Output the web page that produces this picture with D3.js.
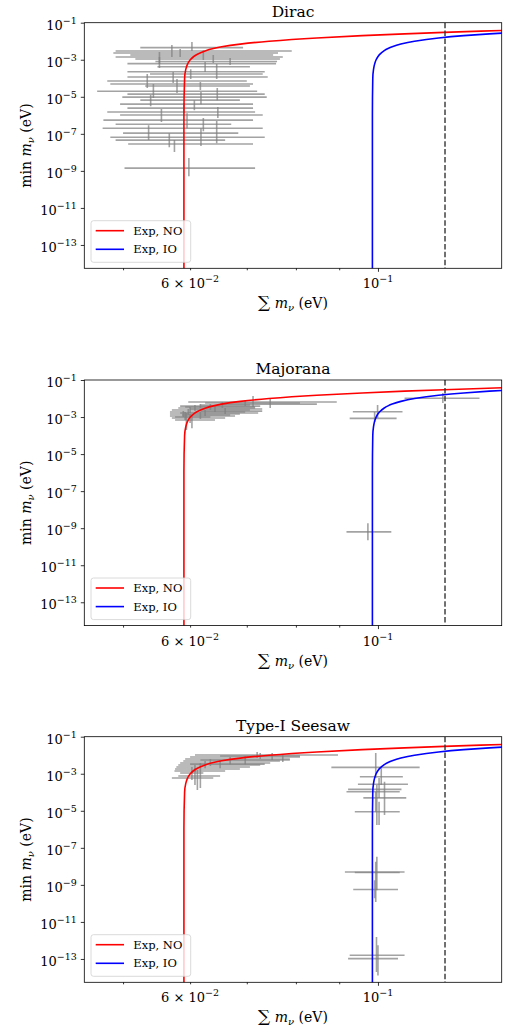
<!DOCTYPE html>
<html lang="en">
<head>
<meta charset="utf-8">
<script src="https://cdn.jsdelivr.net/npm/d3@7"></script>
<style>
    body { margin: 0; background: #fff; }
    text { font-family: 'DejaVu Serif', serif; fill: #000; }
    .frame { fill: none; stroke: #000; stroke-width: 0.8; }
    .axis path { display: none; }
    .axis line { stroke: #000; stroke-width: 0.8; }
    .err { stroke: #808080; stroke-opacity: 0.72; stroke-width: 1.6; }
</style>
</head>
<body>
<div id="chart"></div>
<script>

    // panel titles
    var titles = ["Dirac", "Majorana", "Type-I Seesaw"];

    // tick values and labels
    var yTicks = [1e-1, 1e-3, 1e-5, 1e-7, 1e-9, 1e-11, 1e-13];
    var yTickSup = ["\u22121", "\u22123", "\u22125", "\u22127", "\u22129", "\u221211", "\u221213"];
    var xMajorTicks = [0.1];
    var xMinorTicks = [0.05, 0.06, 0.07, 0.08, 0.09];
    var xLabelTicks = [0.06, 0.1];
    var xTickBase = ["6 \u00d7 10", "10"];
    var xTickSup = ["\u22122", "\u22121"];

    // legend
    var legendLabels = ["Exp, NO", "Exp, IO"];
    var legendColors = ["#ff0000", "#0000ff"];

    // expected curves: lightest mass (eV) vs sum of masses (eV)
    var noMin  = [1e-15, 1e-6, 1e-4, 3e-4, 5e-4, 1e-3, 1.5e-3, 2e-3, 3e-3, 4e-3, 5e-3, 7e-3, 1e-2, 1.5e-2, 2e-2, 2.5e-2, 3e-2, 3.5e-2, 4e-2];
    var noSum  = [0.05900, 0.05900, 0.05911, 0.05930, 0.05950, 0.06003, 0.06060, 0.06120, 0.06250, 0.06392, 0.06538, 0.06876, 0.07436, 0.08466, 0.09579, 0.10750, 0.11967, 0.13222, 0.14508];
    var ioMin  = [1e-15, 1e-6, 1e-4, 3e-4, 5e-4, 1e-3, 1.5e-3, 2e-3, 3e-3, 4e-3, 5e-3, 7e-3, 1e-2, 1.5e-2, 2e-2, 2.5e-2, 3e-2];
    var ioSum  = [0.09850, 0.09850, 0.09860, 0.09880, 0.09900, 0.09950, 0.10002, 0.10055, 0.10163, 0.10277, 0.10395, 0.10643, 0.11045, 0.11791, 0.12626, 0.13541, 0.14529];

    // cosmological bound on the sum
    var sumCut = 0.12;

    // model points: [sum, sumLo, sumHi, minM, minMLo, minMHi]
    var diracBars = [
        [0.0603, 0.0524, 0.0693, 4.5e-3, 2.95e-3, 9.1e-3],
        [0.0571, 0.0490, 0.0791, 2.95e-3, 1.4e-3, 6.2e-3],
        [0.0584, 0.0487, 0.0762, 2.3e-3, 1.4e-3, 3.8e-3],
        [0.0622, 0.0510, 0.0752, 1.8e-3, 9.6e-4, 3.3e-3],
        [0.0552, 0.0490, 0.0772, 1.4e-3, 5.9e-4, 2.6e-3],
        [0.0639, 0.0517, 0.0766, 1.09e-3, 6.6e-4, 1.8e-3],
        [0.0669, 0.0546, 0.0760, 8.0e-4, 5.2e-4, 1.24e-3],
        [0.0552, 0.0506, 0.0758, 6.2e-4, 3.6e-4, 1.4e-3],
        [0.0625, 0.0549, 0.0706, 4.2e-4, 2.2e-4, 7.5e-4],
        [0.0645, 0.0506, 0.0735, 2.25e-4, 9.1e-5, 5.9e-4],
        [0.0601, 0.0538, 0.0731, 1.7e-4, 9.1e-5, 3.1e-4],
        [0.0573, 0.0506, 0.0741, 1.16e-4, 5.5e-5, 2.2e-4],
        [0.0534, 0.0479, 0.0700, 7.1e-5, 2.95e-5, 1.7e-4],
        [0.0579, 0.0483, 0.0712, 4.9e-5, 1.58e-5, 9.1e-5],
        [0.0617, 0.0531, 0.0706, 3.8e-5, 2.3e-5, 6.2e-5],
        [0.0543, 0.0466, 0.0720, 2.0e-5, 8.5e-6, 4.9e-5],
        [0.0646, 0.0506, 0.0735, 1.4e-5, 6.6e-6, 2.95e-5],
        [0.0618, 0.0499, 0.0739, 9.6e-6, 4.0e-6, 1.8e-5],
        [0.0539, 0.0524, 0.0687, 6.6e-6, 3.1e-6, 1.24e-5],
        [0.0607, 0.0496, 0.0712, 4.0e-6, 1.9e-6, 6.6e-6],
        [0.0590, 0.0506, 0.0712, 2.45e-6, 1.3e-6, 4.6e-6],
        [0.0647, 0.0479, 0.0716, 1.5e-6, 7.1e-7, 2.8e-6],
        [0.0555, 0.0496, 0.0731, 1.03e-6, 4.3e-7, 2.2e-6],
        [0.0595, 0.0474, 0.0712, 5.5e-7, 2.0e-7, 1.3e-6],
        [0.0622, 0.0490, 0.0671, 3.3e-7, 1.4e-7, 7.1e-7],
        [0.0645, 0.0473, 0.0731, 2.0e-7, 3.1e-8, 4.9e-7],
        [0.0536, 0.0500, 0.0684, 1.09e-7, 4.6e-8, 2.95e-7],
        [0.0618, 0.0483, 0.0735, 6.6e-8, 2.2e-8, 2.0e-7],
        [0.0567, 0.0490, 0.0660, 4.6e-8, 1.9e-8, 1.09e-7],
        [0.0575, 0.0507, 0.0712, 2.8e-8, 1.03e-8, 4.6e-8],
        [0.0598, 0.0502, 0.0716, 1.4e-9, 5.2e-10, 4.9e-9]
    ];

    var majoranaBars = [
        [0.0712, 0.0597, 0.0894, 6.5e-3, 3.5e-3, 1.36e-2],
        [0.0746, 0.0651, 0.0847, 5.0e-3, 3.1e-3, 9.4e-3],
        [0.0617, 0.0584, 0.0726, 3.9e-3, 3.1e-3, 5.0e-3],
        [0.0608, 0.0581, 0.0716, 3.1e-3, 2.1e-3, 4.45e-3],
        [0.0600, 0.0571, 0.0706, 2.4e-3, 1.64e-3, 3.5e-3],
        [0.0597, 0.0568, 0.0697, 1.86e-3, 1.28e-3, 2.7e-3],
        [0.0589, 0.0568, 0.0687, 1.45e-3, 1.0e-3, 2.1e-3],
        [0.0592, 0.0568, 0.0678, 1.13e-3, 6.9e-4, 1.86e-3],
        [0.0600, 0.0571, 0.0660, 8.8e-4, 4.7e-4, 1.45e-3],
        [0.0603, 0.0576, 0.0642, 6.9e-4, 2.5e-4, 1.13e-3],
        [0.0625, 0.0584, 0.0722, 1.64e-3, 1.13e-3, 2.4e-3],
        [0.0642, 0.0600, 0.0730, 2.7e-3, 1.86e-3, 3.9e-3],
        [0.0634, 0.0592, 0.0716, 3.5e-3, 2.4e-3, 5.0e-3],
        [0.0617, 0.0587, 0.0669, 1.28e-3, 7.8e-4, 1.86e-3],
        [0.0660, 0.0617, 0.0730, 2.1e-3, 1.45e-3, 3.1e-3],
        [0.0655, 0.0617, 0.0706, 4.45e-3, 3.1e-3, 6.5e-3],
        [0.0594, 0.0576, 0.0634, 1.0e-3, 2.0e-4, 1.64e-3],
        [0.0697, 0.0625, 0.0809, 5.7e-3, 3.9e-3, 8.3e-3],
        [0.0999, 0.0934, 0.1069, 1.93e-3, 8.8e-4, 4.45e-3],
        [0.0991, 0.0926, 0.1052, 8.5e-4, 5.4e-4, 1.86e-3],
        [0.1193, 0.1075, 0.1318, 1.03e-2, 5.7e-3, 1.98e-2],
        [0.0973, 0.0918, 0.1037, 6.3e-10, 2.2e-10, 1.86e-9]
    ];

    var seesawBars = [
        [0.0720, 0.0608, 0.0897, 1.03e-2, 7.1e-3, 1.49e-2],
        [0.0750, 0.0600, 0.0809, 8.0e-3, 5.5e-3, 1.32e-2],
        [0.0772, 0.0592, 0.0787, 6.2e-3, 4.3e-3, 1.03e-2],
        [0.0669, 0.0589, 0.0766, 4.9e-3, 3.3e-3, 8.0e-3],
        [0.0634, 0.0584, 0.0746, 3.8e-3, 2.6e-3, 6.2e-3],
        [0.0625, 0.0581, 0.0726, 2.95e-3, 2.0e-3, 4.9e-3],
        [0.0617, 0.0578, 0.0706, 2.3e-3, 1.58e-3, 3.8e-3],
        [0.0608, 0.0576, 0.0687, 1.8e-3, 1.24e-3, 2.95e-3],
        [0.0603, 0.0575, 0.0660, 1.4e-3, 4.6e-4, 2.3e-3],
        [0.0608, 0.0584, 0.0622, 1.09e-3, 2.45e-4, 2.0e-3],
        [0.0612, 0.0571, 0.0639, 5.9e-4, 1.32e-4, 1.58e-3],
        [0.0617, 0.0581, 0.0651, 7.5e-4, 1.7e-4, 1.58e-3],
        [0.0651, 0.0600, 0.0735, 3.3e-3, 2.0e-3, 5.5e-3],
        [0.0697, 0.0617, 0.0787, 5.5e-3, 3.3e-3, 9.1e-3],
        [0.0726, 0.0651, 0.0809, 9.1e-3, 6.2e-3, 1.32e-2],
        [0.0994, 0.0881, 0.1120, 2.2e-3, 5.9e-4, 1.32e-2],
        [0.1009, 0.0952, 0.1070, 6.9e-4, 2.45e-4, 2.0e-3],
        [0.1018, 0.0947, 0.1085, 2.7e-4, 5.9e-6, 3.7e-4],
        [0.1003, 0.0922, 0.1066, 1.44e-4, 4.9e-5, 5.9e-4],
        [0.0997, 0.0918, 0.1061, 1.06e-4, 1.7e-6, 2.45e-4],
        [0.0994, 0.0961, 0.1080, 5.0e-5, 8.8e-6, 1.06e-4],
        [0.1003, 0.0939, 0.1061, 8.8e-6, 1.7e-6, 3.1e-5],
        [0.0997, 0.0914, 0.1075, 5.0e-9, 5.2e-10, 3.3e-8],
        [0.0994, 0.0939, 0.1061, 4.7e-9, 1.2e-10, 1.75e-8],
        [0.0991, 0.0935, 0.1056, 5.6e-10, 1.9e-10, 1.8e-9],
        [0.0996, 0.0926, 0.1075, 1.58e-13, 2.0e-14, 1.55e-12],
        [0.1000, 0.0922, 0.1056, 1.05e-13, 1.3e-14, 5.5e-13]
    ];

    var panelBars = [diracBars, majoranaBars, seesawBars];

    // layout
    var margin = {left: 84.3};
    var width = 417.4;
    var height = 245.6;
    var panelTop = [22.7, 380, 736.7];

    var svg = d3.select("#chart").append("svg")
        .attr("width", 508)
        .attr("height", 1032);

    var x = d3.scaleLog()
        .domain([0.045, 0.14])
        .range([0, width]);

    var y = d3.scaleLog()
        .domain([5.5e-15, 0.1])
        .range([height, 0]);

    var line = d3.line()
        .x(function (d) { return x(d[0]); })
        .y(function (d) { return y(d[1]); })
        .curve(d3.curveMonotoneY);

    panelBars.forEach(function (bars, i) {
        var g = svg.append("g")
            .attr("transform", "translate(" + margin.left + "," + panelTop[i] + ")");

        g.append("clipPath").attr("id", "clip" + i)
            .append("rect").attr("width", width).attr("height", height);

        var plot = g.append("g").attr("clip-path", "url(#clip" + i + ")");

        // error bars
        plot.selectAll(".errx").data(bars).enter().append("line")
            .attr("class", "err")
            .attr("x1", function (d) { return x(d[1]); })
            .attr("x2", function (d) { return x(d[2]); })
            .attr("y1", function (d) { return y(d[3]); })
            .attr("y2", function (d) { return y(d[3]); });

        plot.selectAll(".erry").data(bars).enter().append("line")
            .attr("class", "err")
            .attr("x1", function (d) { return x(d[0]); })
            .attr("x2", function (d) { return x(d[0]); })
            .attr("y1", function (d) { return y(d[4]); })
            .attr("y2", function (d) { return y(d[5]); });

        // expected curves
        plot.append("path")
            .datum(d3.zip(noSum, noMin))
            .attr("d", line)
            .attr("fill", "none")
            .attr("stroke", legendColors[0])
            .attr("stroke-width", 1.6);

        plot.append("path")
            .datum(d3.zip(ioSum, ioMin))
            .attr("d", line)
            .attr("fill", "none")
            .attr("stroke", legendColors[1])
            .attr("stroke-width", 1.6);

        // cut line
        plot.append("line")
            .attr("x1", x(sumCut)).attr("x2", x(sumCut))
            .attr("y1", 0).attr("y2", height)
            .attr("stroke", "#333")
            .attr("stroke-width", 1.4)
            .attr("stroke-dasharray", "5.5,2.4");

        // axes
        g.append("g")
            .attr("class", "axis")
            .attr("transform", "translate(0," + height + ")")
            .call(d3.axisBottom(x).tickValues(xMinorTicks).tickSize(2).tickFormat(""));

        g.append("g")
            .attr("class", "axis")
            .attr("transform", "translate(0," + height + ")")
            .call(d3.axisBottom(x).tickValues(xMajorTicks).tickSize(3.5).tickFormat(""));

        g.append("g")
            .attr("class", "axis")
            .call(d3.axisLeft(y).tickValues(yTicks).tickSize(3.5).tickFormat(""));

        xLabelTicks.forEach(function (v, k) {
            var t = g.append("text")
                .attr("x", x(v))
                .attr("y", height + 20)
                .attr("text-anchor", "middle")
                .style("font-size", "13px");
            t.append("tspan").text(xTickBase[k]);
            t.append("tspan").attr("dy", -6).style("font-size", "9.5px").text(xTickSup[k]);
        });

        yTicks.forEach(function (v, k) {
            var t = g.append("text")
                .attr("x", -7.5)
                .attr("y", y(v) + 7)
                .attr("text-anchor", "end")
                .style("font-size", "13px");
            t.append("tspan").text("10");
            t.append("tspan").attr("dy", -6).style("font-size", "9.5px").text(yTickSup[k]);
        });

        // frame
        g.append("rect")
            .attr("class", "frame")
            .attr("width", width)
            .attr("height", height);

        // title
        g.append("text")
            .attr("x", width / 2)
            .attr("y", -6)
            .attr("text-anchor", "middle")
            .style("font-size", "15.5px")
            .text(titles[i]);

        // x label
        var xl = g.append("text")
            .attr("x", width / 2)
            .attr("y", height + 40)
            .attr("text-anchor", "middle")
            .style("font-size", "14px");
        xl.append("tspan").style("font-size", "17px").text("\u2211");
        xl.append("tspan").text(" ");
        xl.append("tspan").style("font-style", "italic").text("m");
        xl.append("tspan").attr("dy", 3).style("font-size", "10px").style("font-style", "italic").text("\u03bd");
        xl.append("tspan").attr("dy", -3).text(" (eV)");

        // y label
        var yl = g.append("text")
            .attr("transform", "translate(-53," + (height / 2) + ") rotate(-90)")
            .attr("text-anchor", "middle")
            .style("font-size", "14px");
        yl.append("tspan").text("min ");
        yl.append("tspan").style("font-style", "italic").text("m");
        yl.append("tspan").attr("dy", 3).style("font-size", "10px").style("font-style", "italic").text("\u03bd");
        yl.append("tspan").attr("dy", -3).text(" (eV)");

        // legend
        var leg = g.append("g")
            .attr("transform", "translate(6.7," + (height - 6 - 41.6) + ")");

        leg.append("rect")
            .attr("width", 99.7)
            .attr("height", 41.6)
            .attr("rx", 2.5)
            .attr("fill", "#fff")
            .attr("fill-opacity", 0.8)
            .attr("stroke", "#d0d0d0")
            .attr("stroke-width", 0.8);

        legendLabels.forEach(function (lab, k) {
            var ly = 10 + k * 18.6;
            leg.append("line")
                .attr("x1", 4.7).attr("x2", 33)
                .attr("y1", ly).attr("y2", ly)
                .attr("stroke", legendColors[k])
                .attr("stroke-width", 1.6);
            leg.append("text")
                .attr("x", 42.3)
                .attr("y", ly + 4)
                .style("font-size", "11.5px")
                .text(lab);
        });
    });

</script>
</body>
</html>
